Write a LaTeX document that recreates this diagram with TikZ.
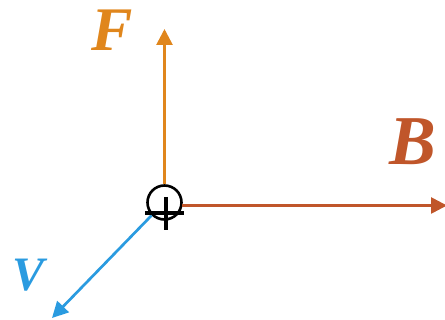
\documentclass[tikz,border=0pt]{standalone}
\usepackage{fontspec}
\setmainfont{Liberation Serif}
\usetikzlibrary{arrows.meta}
\definecolor{forceorange}{HTML}{E0861C}
\definecolor{fieldbrown}{HTML}{C0562A}
\definecolor{velblue}{HTML}{2A9BE0}

\begin{document}
\begin{tikzpicture}[x=1pt, y=-1pt, >={Triangle[length=16pt,width=16pt]}]
  \useasboundingbox (0,0) rectangle (445,320);
  % Charge (current into page)
  \node[draw, circle, line width=2.6pt, minimum size=34pt, inner sep=0pt] (q) at (164.5,202.5) {};

  % End points of the vectors
  \coordinate (Ftip) at (164.5,29);
  \coordinate (Btip) at (447,205.5);
  \coordinate (vtip) at (52,318);

  % Vectors
  \draw[->, line width=2.7pt, forceorange] (q.north) -- (Ftip);
  \draw[->, line width=2.7pt, fieldbrown] (182,205.5) -- (Btip);
  \draw[->, line width=2.7pt, velblue] (q.-135) -- (vtip);

  % Plus sign
  \draw[line width=3.6pt] (166,197) -- (166,230);
  \draw[line width=3.6pt] (145,213) -- (184,213);

  % Labels
  \node[forceorange, font=\fontsize{62}{62}\selectfont\bfseries\itshape] (Flab) at (112,30) {F};
  \node[fieldbrown, font=\fontsize{70}{70}\selectfont\bfseries\itshape] (Blab) at (413,142) {B};
  \node[velblue, font=\fontsize{48}{48}\selectfont\bfseries\itshape] (vlab) at (29,275) {V};
\end{tikzpicture}
\end{document}
